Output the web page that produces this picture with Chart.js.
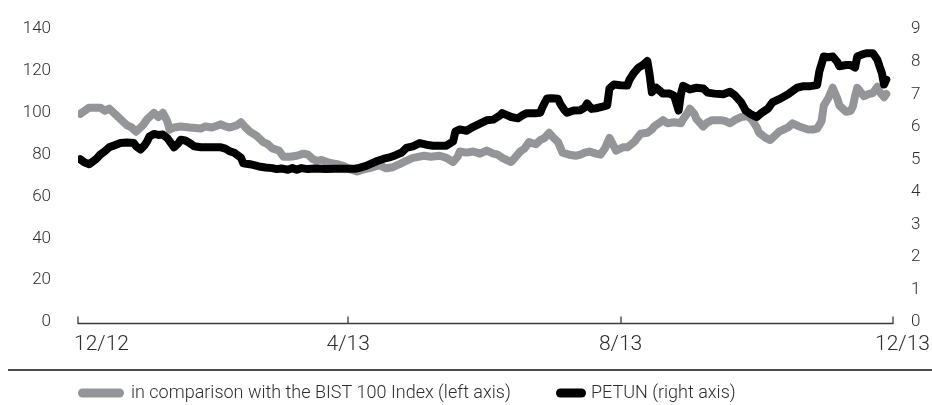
<!DOCTYPE html>
<html><head><meta charset="utf-8">
<script src="https://cdn.jsdelivr.net/npm/chart.js@4.4.1/dist/chart.umd.min.js"></script>
<style>html,body{margin:0;padding:0;background:#fff;}#wrap{width:932px;height:405px;}</style>
</head><body><div id="wrap"><canvas id="c" width="932" height="405"></canvas></div>
<script>
// x positions are calendar days counted from 1 Dec 2012
const xTickDays = [0, 121, 243, 365];
const xTickLabels = ['12/12', '4/13', '8/13', '12/13'];
const seriesNames = ['in comparison with the BIST 100 Index (left axis)', 'PETUN (right axis)'];

const grayDays = [1,3,5,10,12,14,17,19,22,24, 26,29,31,34,36,38,40,41,43,46, 50,55,57,60,64,66,68,71,73,75, 77,80,83,85,87,90,92,95,98,101, 103,105,107,109,113,116,119,122,125,128, 132,135,138,141,144,147,150,155,158,162, 165,168,170,171,174,177,180,183,186,188, 190,194,196,198,200,202,205,207,209,211, 213,215,217,220,223,225,227,229,232,234, 236,238,240,241,244,246,249,252,255,257, 258,262,264,267,270,271,273,274,276,277, 280,282,284,288,290,292,294,297,300,302, 304,305,308,310,312,314,318,320,323,327, 329,331,333,334,336,338,340,341,344,346, 347,348,349,352,354,356,358,359,361,362];
const grayValues = [99.5,101,102.5,102.5,101,102,99,97,94,93, 91,94,97,100,98,100,96,92,93,93.5, 93,92.5,93.5,93,94.5,93.5,93,94,95.5,93, 91,89,86,85,83,82,79,79,79.5,80.5, 80,78,77,77.5,76,75.5,74.5,73,72,73, 74,75,73.5,74,75.5,77,78.5,79.5,79,79.5, 78.5,76.5,79,81.5,81,81.5,80.5,82,80.5,80, 78.5,76.5,79,81.5,83,86,85,87,88,90.5, 88,86,81,80,79.5,80,81,81.5,80.5,80, 83,88,84,82,83.5,83.5,86,90,90.5,92, 93.5,96.5,95,95.5,95,97,100,102,99.5,97, 93.5,95.5,96.5,96.5,96,95,96.5,98,98.5,96.5, 93,90.5,88,87,89,91,93,95,93.5,92, 92,92.5,96,103.5,107,112,107,103.5,100.5,101, 103,108,112,108,109,109.5,112.5,110,107.5,109];

const blackDays = [1,3,5,8,10,12,14,17,19,22, 25,26,28,30,31,32,34,36,38,40, 41,43,45,46,48,50,52,55,59,64, 66,68,70,73,74,77,81,84,87,89, 91,94,96,98,100,103,106,111,115,120, 124,126,129,134,137,140,142,145,147,150, 153,156,159,162,165,168,169,171,174,177, 180,183,186,189,190,194,197,199,201,205, 207,208,210,212,215,216,218,219,222,225, 227,228,230,232,235,237,238,240,243,246, 247,249,251,253,255,256,257,259,262,265, 267,269,270,271,274,277,280,282,285,289, 292,294,297,299,301,304,306,309,311,314, 318,320,322,325,328,331,332,334,336,338, 340,341,344,346,348,349,351,353,356,358, 359,360,361,362];
const blackValues = [5.0,4.9,4.85,5.0,5.15,5.25,5.37,5.45,5.5,5.52, 5.5,5.4,5.3,5.45,5.56,5.7,5.78,5.75,5.76,5.65, 5.56,5.37,5.5,5.6,5.58,5.5,5.4,5.37,5.37,5.37, 5.33,5.25,5.2,5.05,4.88,4.85,4.78,4.75,4.73,4.7, 4.72,4.68,4.73,4.68,4.73,4.7,4.72,4.7,4.71,4.71, 4.71,4.74,4.8,4.95,5.02,5.07,5.12,5.21,5.35,5.4, 5.5,5.45,5.42,5.42,5.42,5.55,5.85,5.92,5.88,6.0, 6.1,6.2,6.22,6.35,6.42,6.3,6.26,6.35,6.42,6.42, 6.43,6.6,6.87,6.88,6.86,6.7,6.5,6.43,6.5,6.51, 6.6,6.72,6.55,6.57,6.62,6.66,7.18,7.3,7.28,7.27, 7.45,7.66,7.82,7.9,8.02,7.6,7.06,7.2,7.02,7.02, 6.95,6.5,7.0,7.26,7.15,7.2,7.18,7.05,7.02,7.0, 7.08,6.98,6.75,6.5,6.4,6.3,6.42,6.56,6.75,6.85, 7.0,7.1,7.2,7.25,7.25,7.28,7.7,8.16,8.14,8.16, 8.0,7.86,7.9,7.9,7.82,8.16,8.22,8.26,8.26,8.06, 7.85,7.66,7.3,7.45];

const FONT = 'Roboto, "Liberation Sans", Arial, sans-serif';
const WEIGHT = '300';
const TEXT = '#2e2e2e';

const decorPlugin = {
  id: 'decor',
  afterDraw(chart) {
    const {ctx, chartArea} = chart;
    const x = chart.scales.x;
    const yb = chartArea.bottom + 1.5;
    ctx.save();
    // x axis line and upward tick marks
    ctx.strokeStyle = '#3a3a3a';
    ctx.lineWidth = 1.3;
    ctx.beginPath();
    ctx.moveTo(x.left, yb);
    ctx.lineTo(x.right, yb);
    xTickDays.forEach(d => {
      const px = Math.round(x.getPixelForValue(d));
      ctx.moveTo(px, yb + 0.6);
      ctx.lineTo(px, yb - 7);
    });
    ctx.stroke();
    // x tick labels
    ctx.font = WEIGHT + ' 21px ' + FONT;
    ctx.fillStyle = TEXT;
    ctx.textBaseline = 'middle';
    xTickLabels.forEach((t, i) => {
      const px = x.getPixelForValue(xTickDays[i]);
      let tx = px;
      ctx.textAlign = 'center';
      if (i === 0) { ctx.textAlign = 'left'; tx = px - 4; }
      else if (i === xTickLabels.length - 1) { ctx.textAlign = 'right'; tx = chart.width - 2; }
      ctx.fillText(t, tx, yb + 21);
    });
    // separator line
    ctx.strokeStyle = '#111';
    ctx.lineWidth = 1.6;
    ctx.beginPath();
    ctx.moveTo(8, 370);
    ctx.lineTo(chart.width, 370);
    ctx.stroke();
    // legend
    const sw = [{x: 78, w: 46, tx: 131}, {x: 556, w: 30, tx: 591}];
    const ly = 393;
    ctx.font = WEIGHT + ' 18px ' + FONT;
    ctx.textAlign = 'left';
    chart.data.datasets.forEach((ds, i) => {
      const s = sw[i];
      ctx.fillStyle = ds.borderColor;
      ctx.beginPath();
      ctx.roundRect(s.x, ly - 4.5, s.w, 9, 4.5);
      ctx.fill();
      ctx.fillStyle = TEXT;
      ctx.fillText(ds.label, s.tx, ly);
    });
    ctx.restore();
  }
};

new Chart(document.getElementById('c'), {
  type: 'line',
  data: {
    datasets: [
      {
        label: seriesNames[0],
        data: grayDays.map((d, i) => ({x: d, y: grayValues[i]})),
        yAxisID: 'yL',
        borderColor: '#939598',
        borderWidth: 8,
        pointRadius: 0,
        tension: 0,
        borderJoinStyle: 'round',
        borderCapStyle: 'round',
        order: 2
      },
      {
        label: seriesNames[1],
        data: blackDays.map((d, i) => ({x: d, y: blackValues[i]})),
        yAxisID: 'yR',
        borderColor: '#000000',
        borderWidth: 8,
        pointRadius: 0,
        tension: 0,
        borderJoinStyle: 'round',
        borderCapStyle: 'round',
        order: 1
      }
    ]
  },
  options: {
    responsive: false,
    animation: false,
    devicePixelRatio: 1,
    layout: {padding: {top: 22, bottom: 0, left: 0, right: 0}},
    scales: {
      x: {
        type: 'linear', min: 0, max: 365,
        grid: {display: false}, border: {display: false},
        ticks: {display: false},
        afterFit: s => { s.height = 83; }
      },
      yL: {
        position: 'left', min: 0, max: 140,
        grid: {display: false}, border: {display: false},
        ticks: {stepSize: 20, padding: 19, color: TEXT, font: {family: FONT, size: 17, weight: WEIGHT}},
        afterFit: s => { s.width = 78; }
      },
      yR: {
        position: 'right', min: 0, max: 9,
        grid: {display: false}, border: {display: false},
        ticks: {stepSize: 1, padding: 10, color: TEXT, font: {family: FONT, size: 17, weight: WEIGHT}},
        afterFit: s => { s.width = 39; }
      }
    },
    plugins: {
      tooltip: {enabled: false},
      legend: {display: false}
    }
  },
  plugins: [decorPlugin]
});
</script>
</body></html>
